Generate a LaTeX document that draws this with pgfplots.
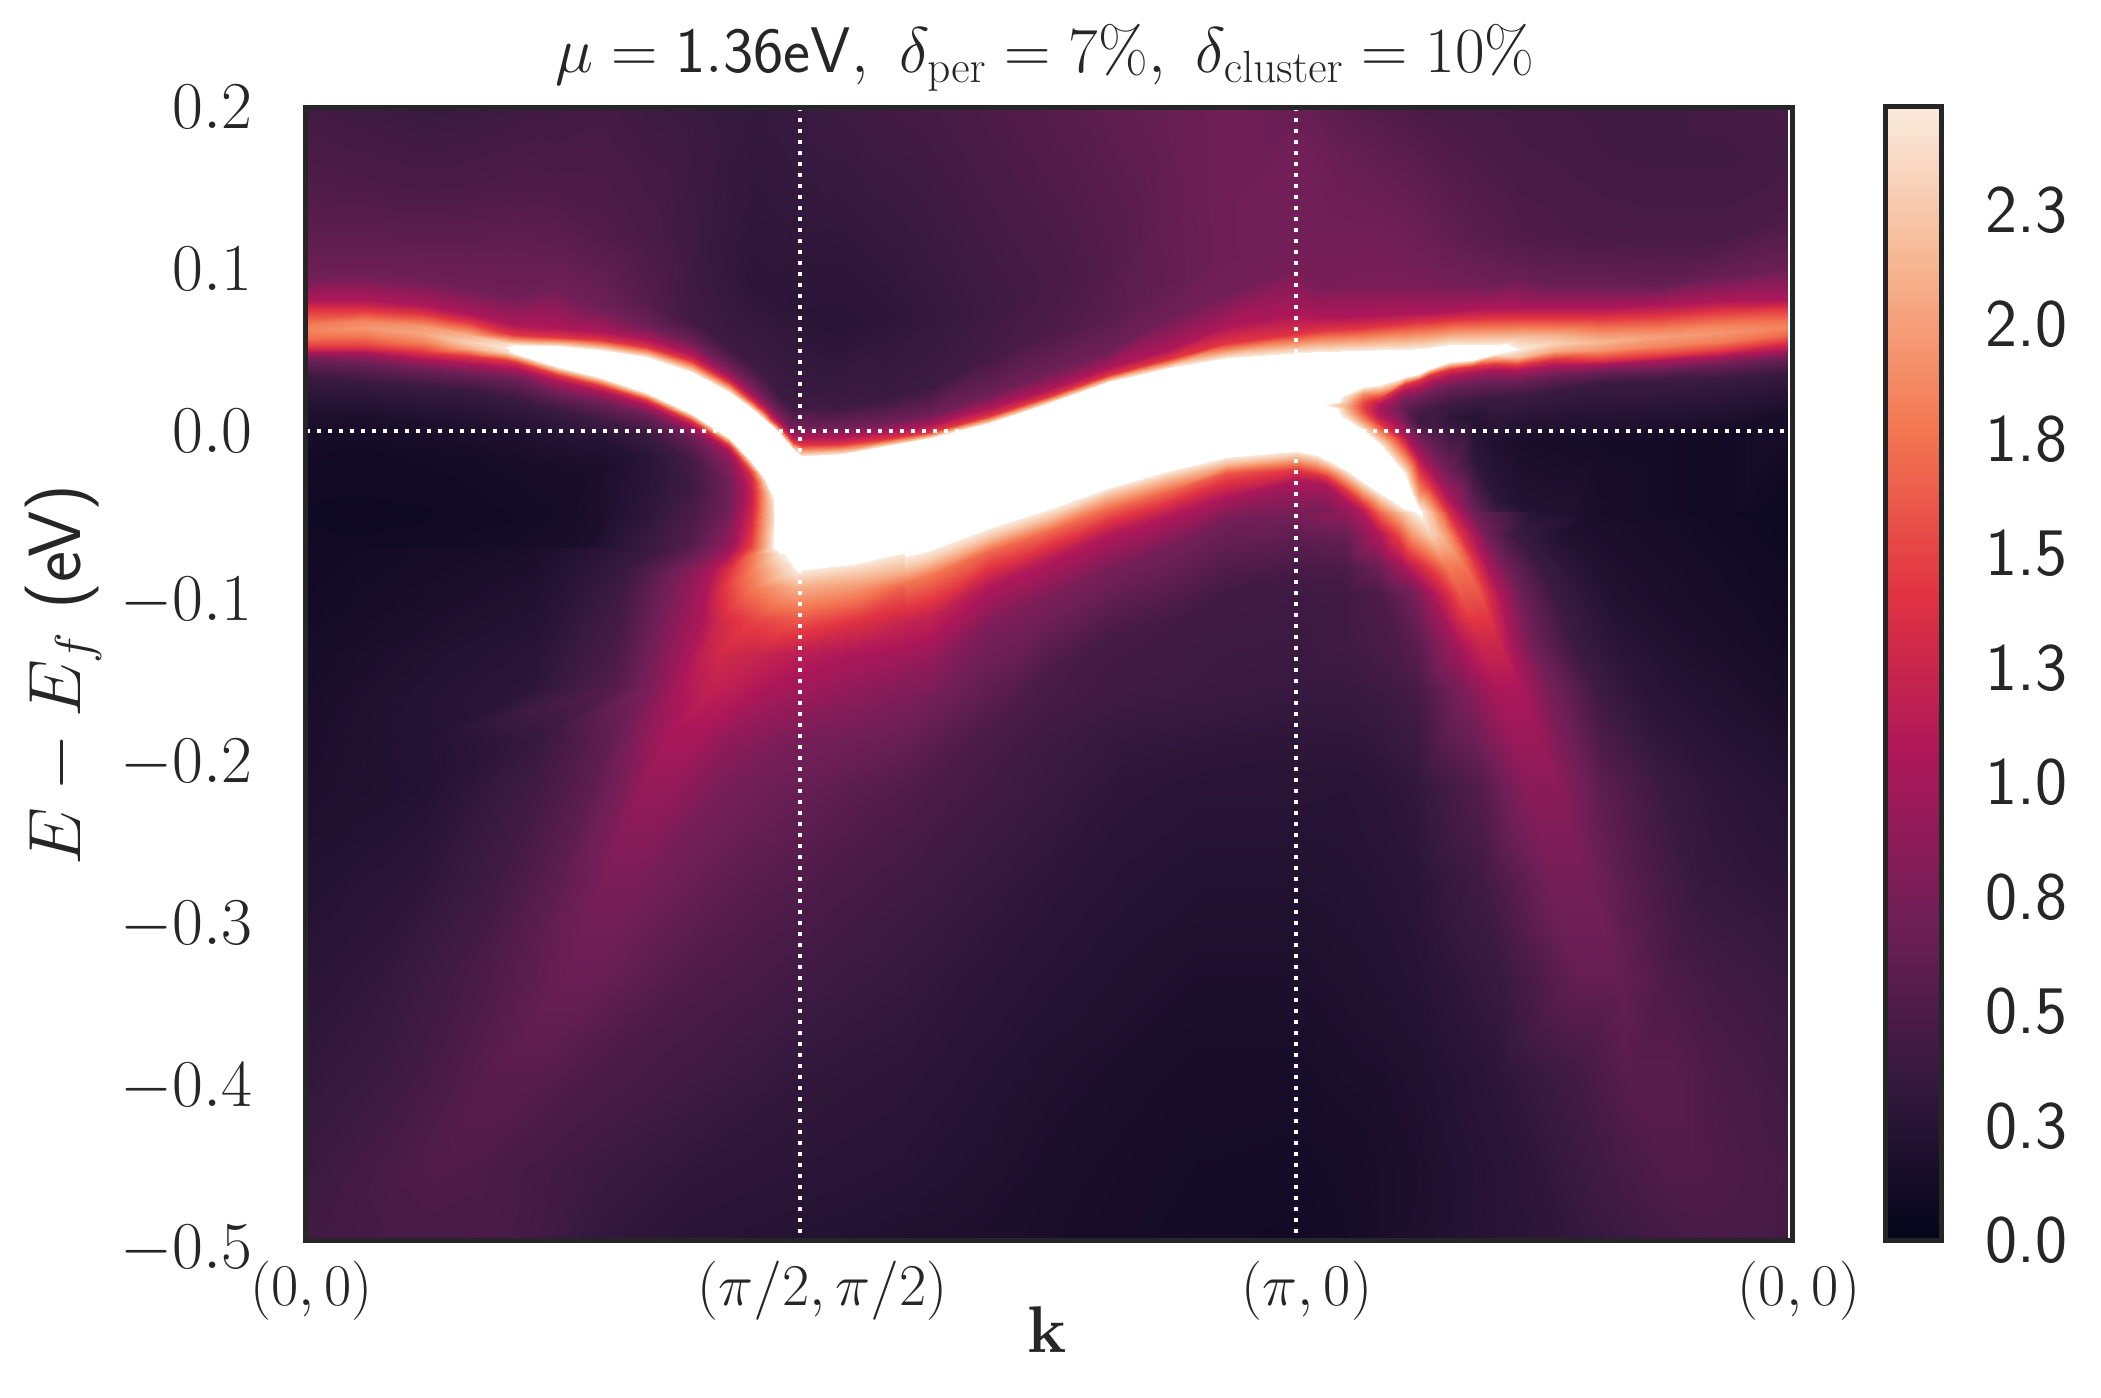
\RequirePackage{fix-cm}
\documentclass[border=0pt]{standalone}
\usepackage{pgfplots}
\pgfplotsset{compat=1.18}
\definecolor{spine}{HTML}{262626}
\pgfplotsset{
 colormap={rocketw}{rgb255(0pt)=(3,5,26); rgb255(35.36pt)=(53,25,62); rgb255(70.71pt)=(112,31,87); rgb255(106.07pt)=(173,23,89); rgb255(141.43pt)=(225,51,66); rgb255(176.79pt)=(243,118,81); rgb255(212.14pt)=(246,180,143); rgb255(247.5pt)=(250,235,221); rgb255(248pt)=(255,255,255); rgb255(300pt)=(255,255,255)},
 colormap={rocket}{rgb255(0pt)=(3,5,26); rgb255(35.36pt)=(53,25,62); rgb255(70.71pt)=(112,31,87); rgb255(106.07pt)=(173,23,89); rgb255(141.43pt)=(225,51,66); rgb255(176.79pt)=(243,118,81); rgb255(212.14pt)=(246,180,143); rgb255(247.5pt)=(250,235,221)},
}
\newcommand{\fs}[1]{\fontsize{#1}{#1}\selectfont}
\newcommand{\neglab}[1]{\raisebox{-3.3pt}[\height][0pt]{$#1$}}
\begin{document}
\begin{tikzpicture}[x=1pt,y=1pt]
\path[use as bounding box] (0,0) rectangle (1050.5,699);
\begin{axis}[
 at={(152.5pt,78.75pt)}, anchor=south west, scale only axis, width=743.75pt, height=566.75pt,
 xmin=0, xmax=1, ymin=-0.5, ymax=0.2,
 axis on top, axis line style={draw=spine, line width=2.5pt},
 major tick length=0pt, tick style={draw=none},
 colormap name=rocketw, point meta min=0, point meta max=3,
 ytick={-0.5,-0.4,-0.3,-0.2,-0.1,0,0.1,0.2},
 yticklabels={\neglab{-0.5},\neglab{-0.4},\neglab{-0.3},\neglab{-0.2},\neglab{-0.1},$0.0$,$0.1$,$0.2$},
 yticklabel style={font=\fs{33.5}, text=spine, inner sep=0pt, anchor=east},
 yticklabel shift=26pt,
 xtick={0,0.3328,0.666,1},
 xticklabels={{\hspace{6.8pt}$(0,0)$},{\hspace{22.5pt}$(\pi/2,\pi/2)$},{\hspace{11.3pt}$(\pi,0)$},{\hspace{6.5pt}$(0,0)$}},
 xticklabel style={font=\fs{29.6}, text=spine, inner sep=0pt, anchor=north},
 xticklabel shift=10.25pt,
]
\addplot[surf, shader=interp, mesh/cols=23, point meta=explicit] coordinates {
(0,.2)[.43] (0,.15)[.52] (0,.12)[.6] (0,.095)[.7] (0,.0806)[1.07] (0,.0744)[1.42] (0,.066)[1.8] (0,.062)[1.85] (0,.057)[1.7] (0,.0518)[1.42] (0,.0487)[1.07] (0,.0445)[.7] (0,.033)[.38] (0,.012)[.2] (0,-.01)[.12] (0,-.05)[.085] (0,-.16)[.14] (0,-.28)[.23] (0,-.44)[.38] (0,-.455)[.39] (0,-.47)[.4] (0,-.485)[.41] (0,-.5)[.42]
(.04,.2)[.4] (.04,.15)[.5] (.04,.12)[.6] (.04,.097)[.7] (.04,.0806)[1.07] (.04,.0749)[1.42] (.04,.068)[1.85] (.04,.0635)[1.95] (.04,.058)[1.75] (.04,.0518)[1.42] (.04,.0487)[1.07] (.04,.0425)[.7] (.04,.0302)[.38] (.04,.009)[.18] (.04,-.012)[.11] (.04,-.05)[.08] (.04,-.16)[.15] (.04,-.28)[.27] (.04,-.44)[.43] (.04,-.455)[.44] (.04,-.47)[.44] (.04,-.485)[.44] (.04,-.5)[.44]
(.08,.2)[.37] (.08,.15)[.48] (.08,.12)[.59] (.08,.093)[.7] (.08,.0775)[1.07] (.08,.0724)[1.42] (.08,.065)[1.95] (.08,.0605)[2.05] (.08,.055)[1.85] (.08,.0487)[1.42] (.08,.0446)[1.07] (.08,.0384)[.7] (.08,.027)[.38] (.08,.005)[.18] (.08,-.014)[.12] (.08,-.05)[.085] (.08,-.16)[.18] (.08,-.28)[.33] (.08,-.44)[.5] (.08,-.455)[.49] (.08,-.47)[.48] (.08,-.485)[.46] (.08,-.5)[.45]
(.11,.2)[.38] (.11,.15)[.49] (.11,.12)[.59] (.11,.088)[.7] (.11,.0724)[1.07] (.11,.0672)[1.42] (.11,.059)[2.1] (.11,.055)[2.3] (.11,.051)[2.1] (.11,.046)[1.42] (.11,.042)[1.07] (.11,.0357)[.7] (.11,.025)[.38] (.11,.003)[.19] (.11,-.016)[.13] (.11,-.05)[.1] (.11,-.16)[.22] (.11,-.28)[.39] (.11,-.43)[.55] (.11,-.45)[.53] (.11,-.47)[.5] (.11,-.485)[.47] (.11,-.5)[.44]
(.135,.2)[.4] (.135,.15)[.5] (.135,.12)[.6] (.135,.084)[.7] (.135,.0665)[1.07] (.135,.0605)[1.42] (.135,.0545)[2.35] (.135,.0515)[2.46] (.135,.0485)[2.35] (.135,.0435)[1.42] (.135,.0392)[1.07] (.135,.033)[.7] (.135,.02)[.38] (.135,0)[.2] (.135,-.02)[.14] (.135,-.055)[.11] (.135,-.16)[.25] (.135,-.28)[.43] (.135,-.41)[.57] (.135,-.44)[.52] (.135,-.46)[.49] (.135,-.48)[.45] (.135,-.5)[.42]
(.142,.2)[.41] (.142,.15)[.51] (.142,.12)[.6] (.142,.083)[.7] (.142,.0655)[1.07] (.142,.0595)[1.42] (.142,.053)[2.49] (.142,.0505)[2.7] (.142,.0475)[2.49] (.142,.0428)[1.42] (.142,.0386)[1.07] (.142,.0325)[.7] (.142,.019)[.38] (.142,0)[.2] (.142,-.02)[.14] (.142,-.056)[.115] (.142,-.16)[.27] (.142,-.28)[.44] (.142,-.4)[.58] (.142,-.44)[.53] (.142,-.46)[.5] (.142,-.48)[.45] (.142,-.5)[.41]
(.17,.2)[.42] (.17,.15)[.5] (.17,.12)[.59] (.17,.088)[.7] (.17,.0634)[1.07] (.17,.0582)[1.42] (.17,.0524)[2.49] (.17,.046)[3] (.17,.0395)[2.49] (.17,.0347)[1.42] (.17,.031)[1.07] (.17,.0235)[.7] (.17,.012)[.38] (.17,-.006)[.22] (.17,-.02)[.16] (.17,-.05)[.13] (.17,-.17)[.23] (.17,-.27)[.45] (.17,-.36)[.65] (.17,-.4)[.6] (.17,-.43)[.53] (.17,-.47)[.44] (.17,-.5)[.39]
(.2,.2)[.44] (.2,.12)[.53] (.2,.095)[.62] (.2,.076)[.7] (.2,.061)[1.07] (.2,.056)[1.42] (.2,.0502)[2.49] (.2,.0413)[3] (.2,.0325)[2.49] (.2,.0278)[1.42] (.2,.0245)[1.07] (.2,.018)[.7] (.2,.006)[.4] (.2,-.005)[.25] (.2,-.02)[.17] (.2,-.055)[.18] (.2,-.1)[.3] (.2,-.19)[.55] (.2,-.28)[.77] (.2,-.34)[.64] (.2,-.4)[.48] (.2,-.45)[.39] (.2,-.5)[.33]
(.23,.2)[.4] (.23,.12)[.48] (.23,.08)[.55] (.23,.0645)[.7] (.23,.0565)[1.07] (.23,.052)[1.42] (.23,.0456)[2.49] (.23,.0345)[3] (.23,.0235)[2.49] (.23,.019)[1.42] (.23,.0158)[1.07] (.23,.0105)[.7] (.23,-.001)[.4] (.23,-.016)[.27] (.23,-.05)[.3] (.23,-.1)[.5] (.23,-.13)[.65] (.23,-.16)[.8] (.23,-.22)[.93] (.23,-.28)[.72] (.23,-.34)[.55] (.23,-.42)[.38] (.23,-.5)[.28]
(.26,.2)[.38] (.26,.12)[.4] (.26,.068)[.42] (.26,.055)[.7] (.26,.0477)[1.07] (.26,.0434)[1.42] (.26,.0364)[2.49] (.26,.0233)[3] (.26,.0103)[2.49] (.26,.006)[1.42] (.26,.003)[1.07] (.26,-.003)[.7] (.26,-.018)[.45] (.26,-.035)[.42] (.26,-.07)[.55] (.26,-.1)[.75] (.26,-.115)[.95] (.26,-.13)[1.1] (.26,-.16)[1.2] (.26,-.22)[.85] (.26,-.28)[.65] (.26,-.38)[.42] (.26,-.5)[.25]
(.285,.2)[.36] (.285,.1)[.33] (.285,.052)[.4] (.285,.0395)[.7] (.285,.0335)[1.07] (.285,.03)[1.42] (.285,.0238)[2.49] (.285,.0098)[3] (.285,-.0043)[2.49] (.285,-.009)[1.42] (.285,-.012)[1.07] (.285,-.018)[.85] (.285,-.032)[.7] (.285,-.045)[.7] (.285,-.07)[.9] (.285,-.09)[1.2] (.285,-.1)[1.3] (.285,-.115)[1.36] (.285,-.13)[1.35] (.285,-.16)[1.15] (.285,-.22)[.78] (.285,-.34)[.45] (.285,-.5)[.24]
(.3,.2)[.35] (.3,.09)[.3] (.3,.042)[.4] (.3,.0291)[.7] (.3,.0223)[1.07] (.3,.0188)[1.42] (.3,.014)[2.49] (.3,-.002)[3] (.3,-.0188)[2.49] (.3,-.024)[1.6] (.3,-.0285)[1.3] (.3,-.035)[1.2] (.3,-.043)[1.2] (.3,-.06)[1.35] (.3,-.0725)[1.5] (.3,-.08)[1.6] (.3,-.09)[1.7] (.3,-.096)[1.8] (.3,-.102)[1.85] (.3,-.13)[1.42] (.3,-.16)[1.05] (.3,-.28)[.55] (.3,-.5)[.23]
(.309,.2)[.35] (.309,.085)[.3] (.309,.034)[.4] (.309,.0205)[.7] (.309,.0145)[1.07] (.309,.0115)[1.42] (.309,.0069)[2.49] (.309,-.012)[3] (.309,-.03)[2.49] (.309,-.034)[2.2] (.309,-.038)[2.05] (.309,-.043)[2] (.309,-.05)[2] (.309,-.06)[2.05] (.309,-.0725)[2.1] (.309,-.08)[2.1] (.309,-.09)[2] (.309,-.096)[1.95] (.309,-.102)[1.9] (.309,-.13)[1.35] (.309,-.16)[1.02] (.309,-.28)[.53] (.309,-.5)[.22]
(.3147,.2)[.36] (.3147,.082)[.3] (.3147,.028)[.4] (.3147,.0145)[.7] (.3147,.009)[1.07] (.3147,.006)[1.42] (.3147,.0022)[2.49] (.3147,-.015)[3] (.3147,-.0409)[2.49] (.3147,-.045)[2.4] (.3147,-.05)[2.35] (.3147,-.055)[2.35] (.3147,-.06)[2.4] (.3147,-.066)[2.45] (.3147,-.072)[2.49] (.3147,-.08)[2.4] (.3147,-.087)[2.25] (.3147,-.094)[2.05] (.3147,-.1)[1.92] (.3147,-.13)[1.3] (.3147,-.16)[1] (.3147,-.28)[.52] (.3147,-.5)[.22]
(.318,.2)[.36] (.318,.08)[.3] (.318,.023)[.4] (.318,.0115)[.7] (.318,.0063)[1.07] (.318,.0035)[1.42] (.318,-.0005)[2.49] (.318,-.012)[3] (.318,-.02)[3] (.318,-.0254)[3] (.318,-.03)[3] (.318,-.036)[3] (.318,-.045)[3] (.318,-.06)[3] (.318,-.07)[3] (.318,-.076)[2.6] (.318,-.085)[2.2] (.318,-.092)[2.05] (.318,-.1)[1.9] (.318,-.13)[1.28] (.318,-.16)[1] (.318,-.28)[.52] (.318,-.5)[.22]
(.328,.2)[.37] (.328,.08)[.29] (.328,.015)[.4] (.328,.0015)[.7] (.328,-.0038)[1.07] (.328,-.0068)[1.42] (.328,-.0112)[2.49] (.328,-.018)[3] (.328,-.024)[3] (.328,-.03)[3] (.328,-.036)[3] (.328,-.042)[3] (.328,-.05)[3] (.328,-.06)[3] (.328,-.07)[3] (.328,-.08)[3] (.328,-.0855)[2.49] (.328,-.092)[2.2] (.328,-.1)[2] (.328,-.13)[1.28] (.328,-.16)[.96] (.328,-.28)[.52] (.328,-.5)[.22]
(.3333,.2)[.38] (.3333,.07)[.28] (.3333,.0168)[.4] (.3333,.0024)[.7] (.3333,-.0038)[1.07] (.3333,-.009)[1.42] (.3333,-.0155)[2.49] (.3333,-.022)[3] (.3333,-.03)[3] (.3333,-.036)[3] (.3333,-.042)[3] (.3333,-.05)[3] (.3333,-.058)[3] (.3333,-.066)[3] (.3333,-.074)[3] (.3333,-.08)[3] (.3333,-.0872)[2.49] (.3333,-.093)[2.25] (.3333,-.1)[2.05] (.3333,-.13)[1.3] (.3333,-.16)[.96] (.3333,-.28)[.5] (.3333,-.5)[.22]
(.36,.2)[.4] (.36,.064)[.27] (.36,.0147)[.4] (.36,.0024)[.7] (.36,-.0038)[1.07] (.36,-.0079)[1.42] (.36,-.0141)[2.49] (.36,-.02)[3] (.36,-.028)[3] (.36,-.034)[3] (.36,-.04)[3] (.36,-.048)[3] (.36,-.056)[3] (.36,-.064)[3] (.36,-.072)[3] (.36,-.078)[3] (.36,-.085)[2.49] (.36,-.0945)[2.2] (.36,-.1047)[1.78] (.36,-.133)[1.1] (.36,-.161)[.85] (.36,-.25)[.48] (.36,-.5)[.21]
(.39,.2)[.43] (.39,.07)[.3] (.39,.02)[.38] (.39,.005)[.7] (.39,-.001)[1.07] (.39,-.005)[1.42] (.39,-.0095)[2.49] (.39,-.016)[3] (.39,-.024)[3] (.39,-.03)[3] (.39,-.036)[3] (.39,-.043)[3] (.39,-.05)[3] (.39,-.058)[3] (.39,-.066)[3] (.39,-.073)[3] (.39,-.0805)[2.49] (.39,-.088)[2.25] (.39,-.098)[1.75] (.39,-.125)[1.15] (.39,-.155)[.86] (.39,-.23)[.5] (.39,-.5)[.2]
(.42,.2)[.45] (.42,.07)[.34] (.42,.027)[.4] (.42,.0095)[.7] (.42,.0035)[1.07] (.42,-.0005)[1.42] (.42,-.0041)[2.49] (.42,-.012)[3] (.42,-.02)[3] (.42,-.027)[3] (.42,-.033)[3] (.42,-.04)[3] (.42,-.046)[3] (.42,-.052)[3] (.42,-.058)[3] (.42,-.065)[3] (.42,-.0735)[2.49] (.42,-.08)[2.25] (.42,-.089)[1.78] (.42,-.115)[1.2] (.42,-.145)[.87] (.42,-.21)[.52] (.42,-.5)[.19]
(.46,.2)[.5] (.46,.075)[.4] (.46,.045)[.45] (.46,.022)[.7] (.46,.014)[1.07] (.46,.009)[1.42] (.46,.0047)[2.49] (.46,-.003)[3] (.46,-.01)[3] (.46,-.017)[3] (.46,-.023)[3] (.46,-.029)[3] (.46,-.035)[3] (.46,-.041)[3] (.46,-.047)[3] (.46,-.053)[3] (.46,-.0602)[2.49] (.46,-.066)[2.2] (.46,-.074)[1.7] (.46,-.095)[1.1] (.46,-.118)[.8] (.46,-.18)[.5] (.46,-.5)[.18]
(.5,.2)[.55] (.5,.09)[.46] (.5,.06)[.5] (.5,.036)[.7] (.5,.026)[1.07] (.5,.0215)[1.42] (.5,.0175)[2.49] (.5,.01)[3] (.5,.002)[3] (.5,-.005)[3] (.5,-.012)[3] (.5,-.018)[3] (.5,-.024)[3] (.5,-.03)[3] (.5,-.036)[3] (.5,-.042)[3] (.5,-.048)[2.49] (.5,-.054)[2.2] (.5,-.062)[1.7] (.5,-.08)[1.1] (.5,-.102)[.78] (.5,-.15)[.47] (.5,-.5)[.17]
(.54,.2)[.6] (.54,.1)[.53] (.54,.07)[.57] (.54,.049)[.7] (.54,.039)[1.07] (.54,.0345)[1.42] (.54,.03)[2.49] (.54,.022)[3] (.54,.014)[3] (.54,.007)[3] (.54,0)[3] (.54,-.006)[3] (.54,-.012)[3] (.54,-.018)[3] (.54,-.024)[3] (.54,-.03)[3] (.54,-.035)[2.49] (.54,-.04)[2.15] (.54,-.048)[1.7] (.54,-.064)[1.1] (.54,-.085)[.76] (.54,-.13)[.44] (.54,-.5)[.16]
(.58,.2)[.65] (.58,.14)[.63] (.58,.09)[.62] (.58,.07)[.7] (.58,.05)[1.07] (.58,.0445)[1.42] (.58,.039)[2.49] (.58,.032)[3] (.58,.024)[3] (.58,.017)[3] (.58,.01)[3] (.58,.004)[3] (.58,-.002)[3] (.58,-.008)[3] (.58,-.014)[3] (.58,-.02)[3] (.58,-.025)[2.49] (.58,-.03)[2.15] (.58,-.037)[1.7] (.58,-.052)[1.1] (.58,-.072)[.74] (.58,-.12)[.43] (.58,-.5)[.14]
(.62,.2)[.7] (.62,.14)[.7] (.62,.105)[.7] (.62,.085)[.72] (.62,.065)[1.07] (.62,.054)[1.42] (.62,.0448)[2.49] (.62,.038)[3] (.62,.03)[3] (.62,.023)[3] (.62,.016)[3] (.62,.01)[3] (.62,.004)[3] (.62,-.002)[3] (.62,-.007)[3] (.62,-.012)[3] (.62,-.016)[2.49] (.62,-.021)[2.1] (.62,-.026)[1.6] (.62,-.04)[1.07] (.62,-.055)[.72] (.62,-.1)[.42] (.62,-.5)[.13]
(.6667,.2)[.66] (.6667,.17)[.73] (.6667,.12)[.72] (.6667,.1)[.75] (.6667,.0713)[1.07] (.6667,.06)[1.42] (.6667,.0481)[2.49] (.6667,.04)[3] (.6667,.033)[3] (.6667,.026)[3] (.6667,.02)[3] (.6667,.014)[3] (.6667,.008)[3] (.6667,.002)[3] (.6667,-.003)[3] (.6667,-.008)[3] (.6667,-.0125)[2.49] (.6667,-.0175)[2.05] (.6667,-.0244)[1.42] (.6667,-.0306)[1.07] (.6667,-.053)[.7] (.6667,-.09)[.42] (.6667,-.5)[.1]
(.68,.2)[.62] (.68,.17)[.7] (.68,.12)[.73] (.68,.09)[.75] (.68,.0703)[1.07] (.68,.061)[1.42] (.68,.0487)[2.49] (.68,.04)[3] (.68,.033)[3] (.68,.026)[3] (.68,.02)[3] (.68,.014)[3] (.68,.008)[3] (.68,.002)[3] (.68,-.003)[3] (.68,-.008)[3] (.68,-.0151)[2.49] (.68,-.02)[2] (.68,-.0265)[1.42] (.68,-.0316)[1.07] (.68,-.05)[.7] (.68,-.076)[.42] (.68,-.5)[.09]
};
\addplot[surf, shader=interp, mesh/cols=26, point meta=explicit] coordinates {
(.6667,.2)[.66] (.6667,.17)[.73] (.6667,.12)[.72] (.6667,.1)[.75] (.6667,.0713)[1.07] (.6667,.06)[1.42] (.6667,.0481)[2.49] (.6667,.04)[3] (.6667,.035)[3] (.6667,.03)[3] (.6667,.026)[3] (.6667,.022)[3] (.6667,.018)[3] (.6667,.014)[3] (.6667,.01)[3] (.6667,.006)[3] (.6667,.002)[3] (.6667,-.005)[3] (.6667,-.0125)[2.49] (.6667,-.0244)[1.42] (.6667,-.0306)[1.07] (.6667,-.053)[.7] (.6667,-.09)[.42] (.6667,-.16)[.36] (.6667,-.32)[.23] (.6667,-.5)[.1]
(.68,.2)[.62] (.68,.17)[.7] (.68,.12)[.73] (.68,.09)[.75] (.68,.0703)[1.07] (.68,.0615)[1.42] (.68,.0487)[2.49] (.68,.04)[3] (.68,.036)[3] (.68,.032)[3] (.68,.029)[3] (.68,.026)[3] (.68,.023)[3] (.68,.0157)[2.9] (.68,.012)[3] (.68,.008)[3] (.68,.004)[3] (.68,-.005)[3] (.68,-.0151)[2.49] (.68,-.0265)[1.42] (.68,-.0316)[1.07] (.68,-.05)[.7] (.68,-.076)[.42] (.68,-.15)[.33] (.68,-.32)[.2] (.68,-.5)[.09]
(.687,.2)[.6] (.687,.17)[.68] (.687,.12)[.72] (.687,.09)[.75] (.687,.0703)[1.07] (.687,.0625)[1.42] (.687,.0487)[2.49] (.687,.04)[3] (.687,.032)[3] (.687,.028)[3] (.687,.025)[3] (.687,.022)[3] (.687,.019)[3] (.687,.0157)[2.45] (.687,.012)[3] (.687,.009)[3] (.687,.005)[3] (.687,-.006)[3] (.687,-.0178)[2.49] (.687,-.0288)[1.42] (.687,-.0337)[1.07] (.687,-.052)[.7] (.687,-.08)[.42] (.687,-.15)[.3] (.687,-.32)[.17] (.687,-.5)[.085]
(.7,.2)[.57] (.7,.17)[.65] (.7,.12)[.72] (.7,.09)[.76] (.7,.0705)[1.07] (.7,.0628)[1.42] (.7,.0493)[2.49] (.7,.04)[3] (.7,.023)[2.49] (.7,.0215)[2.42] (.7,.02)[2.35] (.7,.0185)[2.25] (.7,.017)[2.18] (.7,.0155)[2.1] (.7,.0125)[2.2] (.7,.0105)[2.3] (.7,.0075)[2.49] (.7,-.008)[3] (.7,-.0244)[2.49] (.7,-.0365)[1.42] (.7,-.0425)[1.07] (.7,-.06)[.7] (.7,-.088)[.44] (.7,-.15)[.29] (.7,-.31)[.16] (.7,-.5)[.1]
(.7115,.2)[.55] (.7115,.17)[.63] (.7115,.12)[.72] (.7115,.09)[.77] (.7115,.071)[1.07] (.7115,.0638)[1.42] (.7115,.0495)[2.49] (.7115,.038)[3] (.7115,.027)[2.49] (.7115,.0225)[1.9] (.7115,.02)[1.7] (.7115,.018)[1.55] (.7115,.0155)[1.5] (.7115,.014)[1.5] (.7115,.011)[1.6] (.7115,.007)[1.9] (.7115,.0003)[2.49] (.7115,-.016)[3] (.7115,-.0316)[2.49] (.7115,-.045)[1.42] (.7115,-.051)[1.07] (.7115,-.069)[.7] (.7115,-.095)[.45] (.7115,-.15)[.32] (.7115,-.3)[.17] (.7115,-.5)[.11]
(.7227,.2)[.53] (.7227,.17)[.61] (.7227,.12)[.72] (.7227,.09)[.77] (.7227,.0715)[1.07] (.7227,.0648)[1.42] (.7227,.0497)[2.49] (.7227,.039)[3] (.7227,.0281)[2.49] (.7227,.02)[1.42] (.7227,.0168)[1.07] (.7227,.0135)[1.02] (.7227,.0115)[1.03] (.7227,.0095)[1.07] (.7227,.0075)[1.2] (.7227,.0045)[1.42] (.7227,-.0079)[2.49] (.7227,-.023)[3] (.7227,-.0385)[2.49] (.7227,-.0543)[1.42] (.7227,-.0594)[1.07] (.7227,-.076)[.7] (.7227,-.1)[.48] (.7227,-.148)[.36] (.7227,-.28)[.2] (.7227,-.5)[.12]
(.7395,.2)[.5] (.7395,.17)[.58] (.7395,.12)[.7] (.7395,.09)[.77] (.7395,.0724)[1.07] (.7395,.0662)[1.42] (.7395,.05)[2.49] (.7395,.042)[3] (.7395,.0332)[2.49] (.7395,.0291)[1.42] (.7395,.025)[1.07] (.7395,.0188)[.7] (.7395,.0155)[.64] (.7395,.0127)[.62] (.7395,.0075)[.7] (.7395,-.003)[1.07] (.7395,-.0265)[2.49] (.7395,-.037)[3] (.7395,-.048)[2.49] (.7395,-.0635)[1.6] (.7395,-.072)[1.3] (.7395,-.084)[1] (.7395,-.1)[.72] (.7395,-.148)[.5] (.7395,-.28)[.27] (.7395,-.5)[.16]
(.7492,.2)[.48] (.7492,.17)[.56] (.7492,.12)[.68] (.7492,.09)[.76] (.7492,.0728)[1.07] (.7492,.067)[1.42] (.7492,.0505)[2.49] (.7492,.043)[3] (.7492,.0349)[2.49] (.7492,.0312)[1.42] (.7492,.027)[1.07] (.7492,.0209)[.7] (.7492,.0106)[.42] (.7492,.0055)[.4] (.7492,-.0038)[.7] (.7492,-.0162)[1.07] (.7492,-.04)[2] (.7492,-.0487)[2.55] (.7492,-.052)[2.4] (.7492,-.0635)[1.95] (.7492,-.0759)[1.5] (.7492,-.0841)[1.1] (.7492,-.102)[.7] (.7492,-.16)[.46] (.7492,-.28)[.28] (.7492,-.5)[.19]
(.7555,.2)[.47] (.7555,.17)[.55] (.7555,.12)[.66] (.7555,.09)[.76] (.7555,.073)[1.07] (.7555,.0675)[1.42] (.7555,.0513)[2.49] (.7555,.0445)[3] (.7555,.038)[2.49] (.7555,.0343)[1.42] (.7555,.0302)[1.07] (.7555,.024)[.7] (.7555,.0127)[.42] (.7555,.004)[.42] (.7555,-.01)[.7] (.7555,-.0244)[1.07] (.7555,-.0335)[1.42] (.7555,-.0532)[2.4] (.7555,-.06)[2.2] (.7555,-.0725)[1.75] (.7555,-.085)[1.35] (.7555,-.095)[1.05] (.7555,-.115)[.78] (.7555,-.16)[.48] (.7555,-.28)[.27] (.7555,-.5)[.21]
(.77,.2)[.46] (.77,.17)[.52] (.77,.12)[.62] (.77,.09)[.74] (.77,.074)[1.07] (.77,.0685)[1.42] (.77,.053)[2.49] (.77,.0478)[3] (.77,.0425)[2.49] (.77,.0384)[1.42] (.77,.0343)[1.07] (.77,.028)[.7] (.77,.0168)[.4] (.77,.008)[.3] (.77,-.0265)[.7] (.77,-.043)[1.05] (.77,-.05)[1.3] (.77,-.073)[2.05] (.77,-.08)[1.95] (.77,-.09)[1.7] (.77,-.102)[1.35] (.77,-.1315)[.95] (.77,-.161)[.68] (.77,-.22)[.42] (.77,-.34)[.28] (.77,-.5)[.2]
(.785,.2)[.46] (.785,.17)[.5] (.785,.12)[.58] (.785,.09)[.72] (.785,.0755)[1.07] (.785,.0693)[1.42] (.785,.0532)[2.49] (.785,.048)[3] (.785,.0435)[2.49] (.785,.0398)[1.42] (.785,.0363)[1.07] (.785,.0302)[.7] (.785,.0188)[.4] (.785,.0085)[.25] (.785,-.018)[.32] (.785,-.051)[.7] (.785,-.0676)[1.07] (.785,-.1006)[1.65] (.785,-.11)[1.55] (.785,-.12)[1.35] (.785,-.1315)[1.15] (.785,-.161)[.85] (.785,-.22)[.52] (.785,-.28)[.38] (.785,-.38)[.26] (.785,-.5)[.2]
(.8,.2)[.45] (.8,.17)[.48] (.8,.12)[.56] (.8,.09)[.7] (.8,.0757)[1.07] (.8,.0695)[1.42] (.8,.0532)[2.49] (.8,.0505)[2.7] (.8,.0477)[2.49] (.8,.0415)[1.42] (.8,.038)[1.07] (.8,.0316)[.7] (.8,.0209)[.4] (.8,-.008)[.2] (.8,-.043)[.3] (.8,-.0725)[.65] (.8,-.102)[1.07] (.8,-.139)[1.27] (.8,-.15)[1.17] (.8,-.161)[1.03] (.8,-.19)[.8] (.8,-.22)[.62] (.8,-.28)[.43] (.8,-.34)[.33] (.8,-.42)[.26] (.8,-.5)[.21]
(.815,.2)[.44] (.815,.17)[.46] (.815,.12)[.52] (.815,.095)[.66] (.815,.0757)[1.07] (.815,.07)[1.42] (.815,.0575)[2.25] (.815,.0507)[2.5] (.815,.0455)[2.2] (.815,.0405)[1.42] (.815,.0375)[1.07] (.815,.0315)[.7] (.815,.0215)[.4] (.815,-.006)[.16] (.815,-.043)[.22] (.815,-.0725)[.42] (.815,-.102)[.68] (.815,-.168)[1.05] (.815,-.18)[.98] (.815,-.195)[.88] (.815,-.22)[.72] (.815,-.25)[.6] (.815,-.28)[.5] (.815,-.34)[.37] (.815,-.42)[.28] (.815,-.5)[.24]
(.84,.2)[.43] (.84,.17)[.45] (.84,.12)[.5] (.84,.09)[.66] (.84,.0757)[1.07] (.84,.0695)[1.42] (.84,.0595)[2.1] (.84,.0545)[2.3] (.84,.0495)[2.05] (.84,.0446)[1.42] (.84,.0405)[1.07] (.84,.0349)[.7] (.84,.026)[.4] (.84,-.006)[.14] (.84,-.0725)[.25] (.84,-.102)[.38] (.84,-.161)[.68] (.84,-.245)[.82] (.84,-.26)[.78] (.84,-.279)[.72] (.84,-.3)[.62] (.84,-.338)[.5] (.84,-.37)[.43] (.84,-.398)[.38] (.84,-.45)[.31] (.84,-.5)[.28]
(.87,.2)[.42] (.87,.17)[.43] (.87,.12)[.48] (.87,.09)[.66] (.87,.076)[1.07] (.87,.0695)[1.42] (.87,.06)[1.95] (.87,.055)[2.15] (.87,.05)[1.95] (.87,.044)[1.42] (.87,.0415)[1.07] (.87,.037)[.7] (.87,.0302)[.4] (.87,-.006)[.13] (.87,-.0725)[.17] (.87,-.1315)[.3] (.87,-.22)[.57] (.87,-.31)[.67] (.87,-.338)[.65] (.87,-.37)[.56] (.87,-.398)[.5] (.87,-.42)[.44] (.87,-.44)[.4] (.87,-.46)[.37] (.87,-.48)[.35] (.87,-.5)[.33]
(.91,.2)[.42] (.91,.17)[.42] (.91,.12)[.47] (.91,.09)[.64] (.91,.0775)[1.07] (.91,.071)[1.42] (.91,.0625)[1.85] (.91,.058)[2] (.91,.0525)[1.85] (.91,.0465)[1.42] (.91,.0435)[1.07] (.91,.0385)[.7] (.91,.0315)[.4] (.91,-.005)[.12] (.91,-.0725)[.12] (.91,-.1315)[.2] (.91,-.22)[.36] (.91,-.28)[.45] (.91,-.34)[.54] (.91,-.398)[.58] (.91,-.42)[.56] (.91,-.44)[.54] (.91,-.457)[.53] (.91,-.47)[.5] (.91,-.485)[.46] (.91,-.5)[.42]
(.95,.2)[.44] (.95,.17)[.42] (.95,.12)[.47] (.95,.095)[.66] (.95,.08)[1.07] (.95,.074)[1.42] (.95,.0645)[1.85] (.95,.0605)[1.95] (.95,.055)[1.8] (.95,.0495)[1.42] (.95,.0465)[1.07] (.95,.0415)[.7] (.95,.032)[.38] (.95,-.004)[.1] (.95,-.0725)[.1] (.95,-.1315)[.15] (.95,-.22)[.27] (.95,-.28)[.34] (.95,-.34)[.42] (.95,-.398)[.49] (.95,-.43)[.51] (.95,-.457)[.52] (.95,-.47)[.51] (.95,-.48)[.5] (.95,-.49)[.48] (.95,-.5)[.47]
(.9966,.2)[.46] (.9966,.17)[.44] (.9966,.13)[.5] (.9966,.1)[.68] (.9966,.0806)[1.07] (.9966,.0757)[1.42] (.9966,.068)[1.75] (.9966,.064)[1.85] (.9966,.059)[1.7] (.9966,.0547)[1.42] (.9966,.0497)[1.07] (.9966,.0454)[.7] (.9966,.035)[.36] (.9966,.012)[.16] (.9966,-.043)[.06] (.9966,-.0725)[.08] (.9966,-.1315)[.12] (.9966,-.22)[.24] (.9966,-.279)[.3] (.9966,-.338)[.37] (.9966,-.398)[.42] (.9966,-.43)[.44] (.9966,-.457)[.45] (.9966,-.47)[.45] (.9966,-.485)[.45] (.9966,-.5)[.45]
};
% lower left part, read along rows of constant energy
\addplot[surf, shader=interp, mesh/cols=11, point meta=explicit] coordinates {
(0,-.0725)[.096] (.154,-.0725)[.16] (.2118,-.0725)[.3] (.2342,-.0725)[.38] (.2566,-.0725)[.55] (.27,-.0725)[.72] (.2858,-.0725)[.95] (.3014,-.0725)[1.6] (.3152,-.0725)[2.49] (.33,-.0725)[3] (.403,-.0725)[3]
(0,-.0759)[.1] (.154,-.0759)[.17] (.2118,-.0759)[.33] (.2342,-.0759)[.42] (.2566,-.0759)[.6] (.27,-.0759)[.78] (.2858,-.0759)[1.1] (.3014,-.0759)[1.8] (.3194,-.0759)[2.45] (.36,-.0759)[2.8] (.403,-.0759)[2.45]
(0,-.0862)[.105] (.154,-.0862)[.18] (.2118,-.0862)[.36] (.2342,-.0862)[.55] (.2566,-.0862)[.8] (.2746,-.0862)[1.07] (.2858,-.0862)[1.42] (.3014,-.0862)[1.85] (.3306,-.0862)[2.49] (.373,-.0862)[2.3] (.403,-.0862)[2.14]
(0,-.0965)[.11] (.154,-.0965)[.2] (.2118,-.0965)[.4] (.2342,-.0965)[.62] (.2566,-.0965)[.88] (.27,-.0965)[1.07] (.2813,-.0965)[1.42] (.3014,-.0965)[1.8] (.3306,-.0965)[2.1] (.373,-.0965)[1.95] (.403,-.0965)[1.65]
(0,-.1171)[.12] (.154,-.1171)[.23] (.2118,-.1171)[.45] (.2342,-.1171)[.68] (.2566,-.1171)[.95] (.2678,-.1171)[1.07] (.279,-.1171)[1.3] (.3014,-.1171)[1.5] (.3306,-.1171)[1.6] (.373,-.1171)[1.4] (.403,-.1171)[1.25]
(0,-.1377)[.135] (.154,-.1377)[.27] (.2118,-.1377)[.5] (.2342,-.1377)[.75] (.2566,-.1377)[1.03] (.268,-.1377)[1.2] (.279,-.1377)[1.3] (.3014,-.1377)[1.25] (.3306,-.1377)[1.15] (.373,-.1377)[1.05] (.403,-.1377)[1]
(0,-.1583)[.15] (.154,-.1583)[.3] (.2118,-.1583)[.57] (.2342,-.1583)[.8] (.2566,-.1583)[1.1] (.2746,-.1583)[1.2] (.29,-.1583)[1.15] (.3014,-.1583)[1.1] (.3306,-.1583)[1] (.373,-.1583)[.9] (.403,-.1583)[.82]
(0,-.19)[.17] (.08,-.19)[.23] (.154,-.19)[.35] (.2058,-.19)[.62] (.2212,-.19)[.8] (.243,-.19)[1.03] (.262,-.19)[1.03] (.283,-.19)[.9] (.3326,-.19)[.75] (.36,-.19)[.72] (.403,-.19)[.66]
(0,-.22)[.18] (.077,-.22)[.22] (.154,-.22)[.42] (.193,-.22)[.6] (.215,-.22)[.78] (.226,-.22)[.92] (.247,-.22)[.92] (.283,-.22)[.75] (.3326,-.22)[.65] (.36,-.22)[.6] (.403,-.22)[.53]
(0,-.279)[.22] (.077,-.279)[.3] (.1286,-.279)[.42] (.17,-.279)[.6] (.19,-.279)[.7] (.2,-.279)[.76] (.222,-.279)[.76] (.283,-.279)[.6] (.3326,-.279)[.52] (.36,-.279)[.47] (.403,-.279)[.42]
(0,-.338)[.28] (.05,-.338)[.33] (.103,-.338)[.44] (.14,-.338)[.55] (.165,-.338)[.63] (.175,-.338)[.66] (.197,-.338)[.66] (.2573,-.338)[.52] (.3326,-.338)[.42] (.36,-.338)[.39] (.403,-.338)[.35]
(0,-.398)[.33] (.05,-.398)[.38] (.08,-.398)[.44] (.1,-.398)[.5] (.12,-.398)[.55] (.13,-.398)[.57] (.155,-.398)[.57] (.2,-.398)[.48] (.2573,-.398)[.42] (.3326,-.398)[.33] (.403,-.398)[.3]
(0,-.457)[.38] (.03,-.457)[.43] (.05,-.457)[.46] (.07,-.457)[.5] (.08,-.457)[.51] (.09,-.457)[.52] (.115,-.457)[.5] (.15,-.457)[.45] (.2,-.457)[.38] (.2573,-.457)[.32] (.403,-.457)[.25]
(0,-.5)[.42] (.03,-.5)[.44] (.05,-.5)[.45] (.065,-.5)[.455] (.072,-.5)[.46] (.09,-.5)[.465] (.125,-.5)[.47] (.15,-.5)[.44] (.2,-.5)[.33] (.2573,-.5)[.27] (.403,-.5)[.2]
};
% lower middle part
\addplot[surf, shader=interp, mesh/cols=6, point meta=explicit] coordinates {
(.403,-.161)[.81] (.45,-.161)[.64] (.5,-.161)[.46] (.55,-.161)[.41] (.6,-.161)[.39] (.6667,-.161)[.36]
(.403,-.19)[.66] (.45,-.19)[.5] (.5,-.19)[.4] (.55,-.19)[.34] (.6,-.19)[.32] (.6667,-.19)[.3]
(.403,-.22)[.53] (.45,-.22)[.44] (.5,-.22)[.37] (.55,-.22)[.3] (.6,-.22)[.27] (.6667,-.22)[.27]
(.403,-.279)[.42] (.45,-.279)[.36] (.5,-.279)[.3] (.55,-.279)[.25] (.6,-.279)[.22] (.6667,-.279)[.22]
(.403,-.338)[.35] (.45,-.338)[.3] (.5,-.338)[.25] (.55,-.338)[.21] (.6,-.338)[.18] (.6667,-.338)[.18]
(.403,-.398)[.3] (.45,-.398)[.25] (.5,-.398)[.2] (.55,-.398)[.17] (.6,-.398)[.15] (.6667,-.398)[.15]
(.403,-.457)[.25] (.45,-.457)[.21] (.5,-.457)[.17] (.55,-.457)[.15] (.6,-.457)[.13] (.6667,-.457)[.12]
(.403,-.5)[.2] (.45,-.5)[.18] (.5,-.5)[.16] (.55,-.5)[.14] (.6,-.5)[.12] (.6667,-.5)[.11]
};
% lower right part
\addplot[surf, shader=interp, mesh/cols=13, point meta=explicit] coordinates {
(.6667,-.05)[.75] (.7,-.05)[.91] (.7115,-.05)[1.13] (.7227,-.05)[1.7] (.7395,-.05)[2.3] (.7492,-.05)[2.55] (.7555,-.05)[2.25] (.7628,-.05)[1.8] (.77,-.05)[1.3] (.7855,-.05)[.7] (.8258,-.05)[.25] (.87,-.05)[.15] (.9966,-.05)[.065]
(.6667,-.0635)[.62] (.7,-.0635)[.66] (.7227,-.0635)[1.1] (.7339,-.0635)[1.5] (.7451,-.0635)[2] (.7564,-.0635)[2.3] (.762,-.0635)[2.2] (.7676,-.0635)[1.95] (.7766,-.0635)[1.4] (.7945,-.0635)[.7] (.8124,-.0635)[.4] (.846,-.0635)[.2] (.9966,-.0635)[.07]
(.6667,-.084)[.47] (.7,-.084)[.5] (.7227,-.084)[.7] (.7384,-.084)[1] (.7496,-.084)[1.3] (.768,-.084)[1.78] (.78,-.084)[1.75] (.7877,-.084)[1.4] (.7945,-.084)[1.07] (.8079,-.084)[.7] (.83,-.084)[.4] (.8684,-.084)[.2] (.9966,-.084)[.09]
(.6667,-.1006)[.41] (.7,-.1006)[.42] (.7227,-.1006)[.5] (.7451,-.1006)[.72] (.7564,-.1006)[1] (.7765,-.1006)[1.6] (.79,-.1006)[1.58] (.7967,-.1006)[1.3] (.8034,-.1006)[1.07] (.8169,-.1006)[.7] (.839,-.1006)[.4] (.8806,-.1006)[.2] (.9966,-.1006)[.1]
(.6667,-.1315)[.38] (.7,-.1315)[.42] (.736,-.1315)[.5] (.7495,-.1315)[.6] (.774,-.1315)[1] (.79,-.1315)[1.26] (.803,-.1315)[1.26] (.8123,-.1315)[1] (.8258,-.1315)[.7] (.8526,-.1315)[.4] (.88,-.1315)[.28] (.9154,-.1315)[.2] (.9966,-.1315)[.12]
(.6667,-.161)[.36] (.7,-.161)[.36] (.725,-.161)[.39] (.7473,-.161)[.45] (.781,-.161)[.8] (.802,-.161)[1.04] (.818,-.161)[1.04] (.837,-.161)[.75] (.8706,-.161)[.4] (.9,-.161)[.28] (.92,-.161)[.25] (.938,-.161)[.22] (.9966,-.161)[.15]
(.6667,-.22)[.27] (.7,-.22)[.26] (.725,-.22)[.29] (.7473,-.22)[.33] (.7921,-.22)[.55] (.822,-.22)[.86] (.843,-.22)[.86] (.8706,-.22)[.6] (.9154,-.22)[.37] (.95,-.22)[.3] (.96,-.22)[.285] (.97,-.22)[.27] (.9966,-.22)[.24]
(.6667,-.279)[.22] (.7,-.279)[.23] (.725,-.279)[.25] (.7473,-.279)[.28] (.7921,-.279)[.42] (.838,-.279)[.73] (.862,-.279)[.73] (.893,-.279)[.55] (.938,-.279)[.35] (.95,-.279)[.34] (.96,-.279)[.33] (.98,-.279)[.31] (.9966,-.279)[.3]
(.6667,-.338)[.18] (.7,-.338)[.2] (.725,-.338)[.22] (.7473,-.338)[.25] (.8033,-.338)[.37] (.855,-.338)[.64] (.885,-.338)[.64] (.9154,-.338)[.5] (.95,-.338)[.42] (.96,-.338)[.41] (.97,-.338)[.4] (.985,-.338)[.38] (.9966,-.338)[.37]
(.6667,-.398)[.15] (.7,-.398)[.17] (.725,-.398)[.18] (.7473,-.398)[.2] (.8033,-.398)[.3] (.85,-.398)[.42] (.89,-.398)[.57] (.918,-.398)[.57] (.945,-.398)[.5] (.9602,-.398)[.47] (.975,-.398)[.45] (.985,-.398)[.43] (.9966,-.398)[.42]
(.6667,-.457)[.12] (.7,-.457)[.14] (.725,-.457)[.16] (.7473,-.457)[.18] (.8257,-.457)[.3] (.88,-.457)[.44] (.915,-.457)[.52] (.937,-.457)[.52] (.95,-.457)[.51] (.9602,-.457)[.5] (.975,-.457)[.48] (.985,-.457)[.46] (.9966,-.457)[.45]
(.6667,-.5)[.11] (.7,-.5)[.13] (.725,-.5)[.16] (.7585,-.5)[.2] (.8482,-.5)[.32] (.9,-.5)[.41] (.94,-.5)[.47] (.955,-.5)[.47] (.96,-.5)[.47] (.97,-.5)[.46] (.98,-.5)[.46] (.99,-.5)[.45] (.9966,-.5)[.45]
};
\addplot[white, line width=2pt, dash pattern=on 2pt off 3.5pt, forget plot] coordinates {(0.3328,0.2) (0.3328,-0.5)};
\addplot[white, line width=2pt, dash pattern=on 2pt off 3.5pt, forget plot] coordinates {(0.666,0.2) (0.666,-0.5)};
\addplot[white, line width=2pt, dash pattern=on 2pt off 3.5pt, forget plot] coordinates {(0.001,0) (0.9966,0)};
\end{axis}
\begin{axis}[
 at={(942.75pt,78.75pt)}, anchor=south west, scale only axis, width=28pt, height=566.75pt,
 xmin=0, xmax=1, ymin=0, ymax=2.475,
 axis on top, axis line style={draw=spine, line width=2.5pt},
 major tick length=0pt, tick style={draw=none},
 colormap name=rocket, point meta min=0, point meta max=2.475,
 xtick=\empty, ytick pos=right, yticklabel pos=right,
 ytick={0,0.25,0.5,0.75,1,1.25,1.5,1.75,2,2.25},
 yticklabels={0.0,0.3,0.5,0.8,1.0,1.3,1.5,1.8,2.0,2.3},
 yticklabel style={font=\fs{34}\sffamily, text=spine, inner sep=0pt, anchor=west},
 yticklabel shift=22pt,
]
\addplot[surf, shader=interp, mesh/cols=2, point meta=y] coordinates {
(0,0)(1,0) (0,0.3536)(1,0.3536) (0,0.7071)(1,0.7071) (0,1.0607)(1,1.0607) (0,1.4143)(1,1.4143) (0,1.7679)(1,1.7679) (0,2.1214)(1,2.1214) (0,2.475)(1,2.475)
};
\end{axis}
\node[anchor=base, text=spine, font=\fs{32.2}, inner sep=0pt] at (522.5,662.5) {$\mu = \mathsf{1.36eV},\ \delta_{\mathrm{per}} = 7\%,\ \delta_{\mathrm{cluster}} = 10\%$};
\node[anchor=base, text=spine, font=\fs{37}, rotate=90, inner sep=0pt] at (40,361.5) {$E - E_f$ {\sffamily (eV)}};
\node[anchor=base, text=spine, font=\fs{33}, inner sep=0pt] at (523.5,22.5) {$\mathbf{k}$};
\end{tikzpicture}
\end{document}
